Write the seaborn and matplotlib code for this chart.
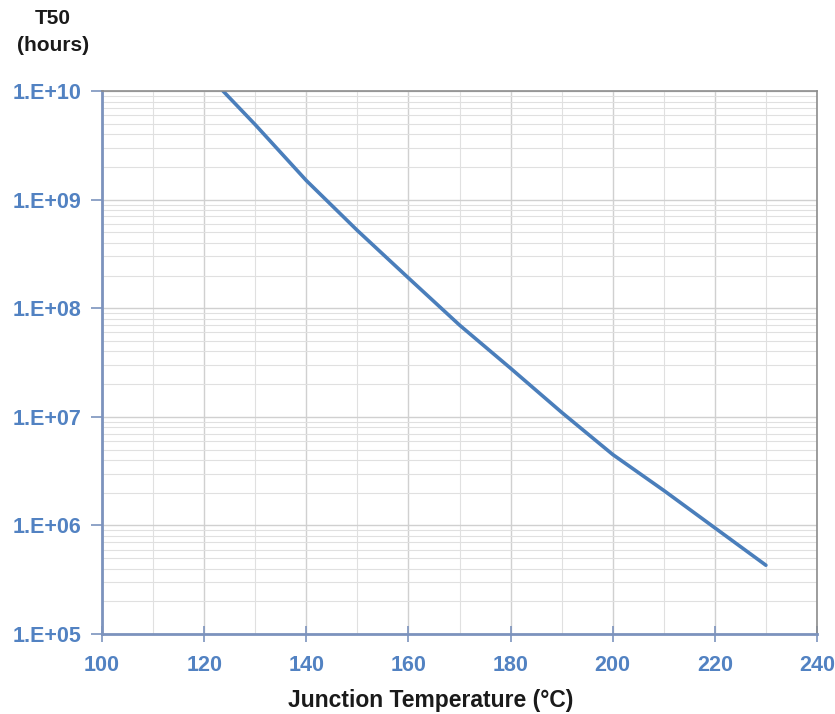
import numpy as np
import pandas as pd
import matplotlib
matplotlib.use("Agg")
import matplotlib.pyplot as plt
import matplotlib.ticker as mticker
import seaborn as sns

# Data
temperature_c = [123.7, 130, 140, 150, 160, 170, 180, 190, 200, 210, 220, 230]
t50_hours = [1.0e10, 4.9e9, 1.5e9, 5.2e8, 1.9e8, 7.0e7, 2.8e7, 1.1e7, 4.5e6, 2.1e6, 9.5e5, 4.3e5]
x_ticks = [100, 120, 140, 160, 180, 200, 220, 240]
y_ticks = [1e5, 1e6, 1e7, 1e8, 1e9, 1e10]
y_tick_labels = ["1.E+05", "1.E+06", "1.E+07", "1.E+08", "1.E+09", "1.E+10"]

df = pd.DataFrame({"temp": temperature_c, "t50": t50_hours})

sns.set_theme(style="white")
plt.rcParams["font.family"] = ["Liberation Sans", "DejaVu Sans"]

fig = plt.figure(figsize=(8.35, 7.14), dpi=100)
ax = fig.add_axes([0.1222, 0.112, 0.8562, 0.7605])

sns.lineplot(data=df, x="temp", y="t50", ax=ax, color="#4A7EBB", linewidth=2.6)

ax.set_yscale("log")
ax.set_xlim(100, 240)
ax.set_ylim(1e5, 1e10)

tick_blue = "#5282C2"
axis_blue = "#7C93BD"

ax.xaxis.set_major_locator(mticker.FixedLocator(x_ticks))
ax.xaxis.set_minor_locator(mticker.MultipleLocator(10))
ax.set_xticklabels([str(v) for v in x_ticks])
ax.yaxis.set_major_locator(mticker.FixedLocator(y_ticks))
ax.set_yticklabels(y_tick_labels)
ax.yaxis.set_minor_locator(mticker.LogLocator(base=10, subs=np.arange(2, 10)))
ax.yaxis.set_minor_formatter(mticker.NullFormatter())

ax.grid(True, which="major", color="#D0D0D0", linewidth=1.0)
ax.grid(True, which="minor", color="#E0E0E0", linewidth=0.8)
ax.set_axisbelow(True)

for lbl in ax.get_xticklabels() + ax.get_yticklabels():
    lbl.set_color(tick_blue)
    lbl.set_fontsize(15.5)
    lbl.set_fontweight("bold")

ax.tick_params(axis="y", which="major", direction="out", length=8, width=1.2,
               color=axis_blue, left=True, pad=7)
ax.tick_params(axis="x", which="major", direction="inout", length=12, width=1.2,
               color=axis_blue, bottom=True, pad=9)
ax.tick_params(which="minor", length=0)

ax.spines["left"].set_color(axis_blue)
ax.spines["left"].set_linewidth(2)
ax.spines["bottom"].set_color(axis_blue)
ax.spines["bottom"].set_linewidth(2)
ax.spines["top"].set_color("#8C8C8C")
ax.spines["top"].set_linewidth(1.2)
ax.spines["right"].set_color("#8C8C8C")
ax.spines["right"].set_linewidth(1.2)

ax.set_xlabel("Junction Temperature (°C)", fontsize=16.5, fontweight="bold",
              color="#1A1A1A")
ax.xaxis.set_label_coords(0.459, -0.102)
ax.set_ylabel("")

fig.text(0.0635, 0.974, "T50", ha="center", va="center", fontsize=15,
         fontweight="bold", color="#1A1A1A")
fig.text(0.0635, 0.936, "(hours)", ha="center", va="center", fontsize=15,
         fontweight="bold", color="#1A1A1A")

fig.savefig("out.png", dpi=100)
